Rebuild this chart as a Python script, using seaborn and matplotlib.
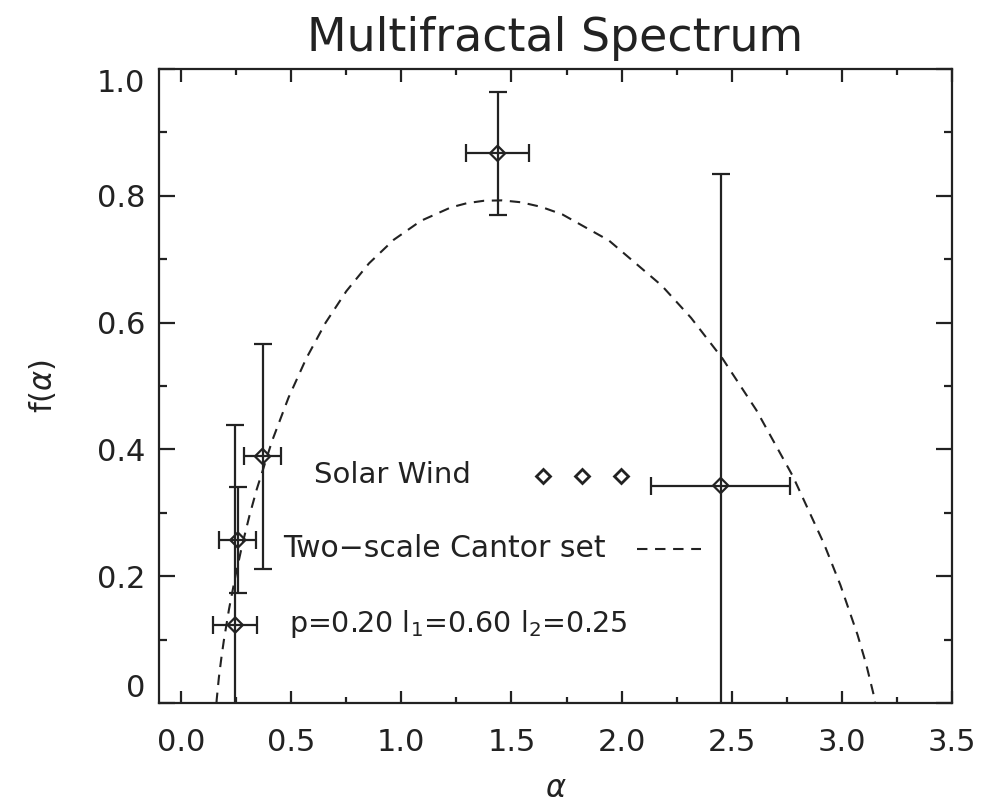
import numpy as np
import pandas as pd
import matplotlib
matplotlib.use("Agg")
import matplotlib.pyplot as plt
import seaborn as sns

# ---- data ----
alpha_obs = [0.246, 0.258, 0.370, 1.437, 2.450]
f_obs = [0.123, 0.257, 0.389, 0.867, 0.343]
alpha_err = [0.100, 0.084, 0.085, 0.143, 0.315]
f_err = [0.315, 0.083, 0.178, 0.097, 0.491]

# two-scale Cantor set curve (dashed)
alpha_curve = [0.1609, 0.1620, 0.1720, 0.1833, 0.1946, 0.2178, 0.2477, 0.2785,
               0.3104, 0.3435, 0.4131, 0.4880, 0.5687, 0.6559, 0.7505, 0.8535,
               0.9659, 1.0893, 1.2252, 1.2984, 1.3756, 1.4571, 1.5431, 1.6342,
               1.7307, 1.9422, 2.1825, 2.3154, 2.4581, 2.6115, 2.7771, 2.9192,
               2.9938, 3.0710, 3.1105, 3.1426, 3.1507]
f_curve = [0.0, 0.0057, 0.0407, 0.0716, 0.0991, 0.1479, 0.2017, 0.2503,
           0.2951, 0.3368, 0.4131, 0.4817, 0.5436, 0.5996, 0.6496, 0.6935,
           0.7307, 0.7606, 0.7817, 0.7884, 0.7922, 0.7928, 0.7898, 0.7826,
           0.7707, 0.7296, 0.6583, 0.6075, 0.5433, 0.4621, 0.3580, 0.2509,
           0.1856, 0.1078, 0.0611, 0.0155, 0.0]

x_ticks = [0.0, 0.5, 1.0, 1.5, 2.0, 2.5, 3.0, 3.5]
x_tick_labels = ["0.0", "0.5", "1.0", "1.5", "2.0", "2.5", "3.0", "3.5"]
y_ticks = [0.0, 0.2, 0.4, 0.6, 0.8, 1.0]
y_tick_labels = ["0", "0.2", "0.4", "0.6", "0.8", "1.0"]

legend_sym_alpha = [1.644, 1.821, 1.998]
legend_sym_f = [0.358, 0.358, 0.358]

title = "Multifractal Spectrum"
label_solar = "Solar Wind"
label_cantor = "Two\u2212scale Cantor set"
label_params = "p=0.20 l$_1$=0.60 l$_2$=0.25"

# ---- style ----
sns.set_theme(style="ticks")
plt.rcParams["font.family"] = ["DejaVu Sans"]
plt.rcParams["mathtext.fontset"] = "dejavusans"
plt.rcParams["lines.scale_dashes"] = False

ink = "#222222"
lw = 1.6

fig = plt.figure(figsize=(9.85, 8.10), dpi=100)
ax = fig.add_axes([159 / 985, 1 - 703 / 810, (952 - 159) / 985, (703 - 69) / 810])

curve = pd.DataFrame({"alpha": alpha_curve, "f": f_curve})
sns.lineplot(data=curve, x="alpha", y="f", ax=ax, color=ink, lw=1.5,
             linestyle=(0, (7.5, 5.5)), estimator=None, sort=False)

ax.errorbar(alpha_obs, f_obs, xerr=alpha_err, yerr=f_err, fmt="none",
            ecolor=ink, elinewidth=lw, capsize=6.5, capthick=lw, zorder=3)
obs = pd.DataFrame({"alpha": alpha_obs, "f": f_obs})
sns.scatterplot(data=obs, x="alpha", y="f", ax=ax, marker="D", s=60,
                facecolor="none", edgecolor=ink, linewidth=1.6, zorder=4)

# legend annotations
ax.plot(legend_sym_alpha, legend_sym_f, linestyle="none", marker="D",
        markersize=7, markerfacecolor="none", markeredgecolor=ink,
        markeredgewidth=2.0, zorder=4)
txt_kw = dict(color=ink, va="center", ha="left")
ax.text(0.605, 0.360, label_solar, fontsize=21, **txt_kw)
ax.text(0.465, 0.243, label_cantor, fontsize=21.5, **txt_kw)
ax.plot([2.07, 2.36], [0.243, 0.243], color=ink, lw=1.5,
        linestyle=(0, (7.5, 5.5)))
ax.text(0.49, 0.124, label_params, fontsize=20.5, **txt_kw)

ax.set_xlim(-0.1, 3.5)
ax.set_ylim(0, 1.0)
ax.set_xticks(x_ticks)
ax.set_xticklabels(x_tick_labels)
ax.set_yticks(y_ticks)
ax.set_yticklabels(y_tick_labels)
ax.set_xticks(np.arange(0.25, 3.5, 0.5), minor=True)
ax.set_yticks(np.arange(0.1, 1.0, 0.2), minor=True)
ax.tick_params(which="both", direction="in", top=True, right=True,
               color=ink, width=lw, labelsize=22, labelcolor=ink)
ax.tick_params(axis="x", which="major", length=9, pad=18)
ax.tick_params(axis="x", which="minor", length=4.5)
ax.tick_params(axis="y", which="major", length=11.5, pad=10)
ax.tick_params(axis="y", which="minor", length=5.8)
for sp in ax.spines.values():
    sp.set_color(ink)
    sp.set_linewidth(lw)

# IDL-style placement of the end labels on the y axis
ylabels = ax.get_yticklabels()
ylabels[0].set_va("bottom")
ylabels[-1].set_va("top")

ax.set_xlabel(r"$\alpha$", fontsize=22, color=ink, labelpad=12)
ax.set_ylabel(r"f($\alpha$)", fontsize=22, color=ink, labelpad=28)
ax.set_title(title, fontsize=33, color=ink, pad=13)

fig.savefig("out.png", dpi=100)
